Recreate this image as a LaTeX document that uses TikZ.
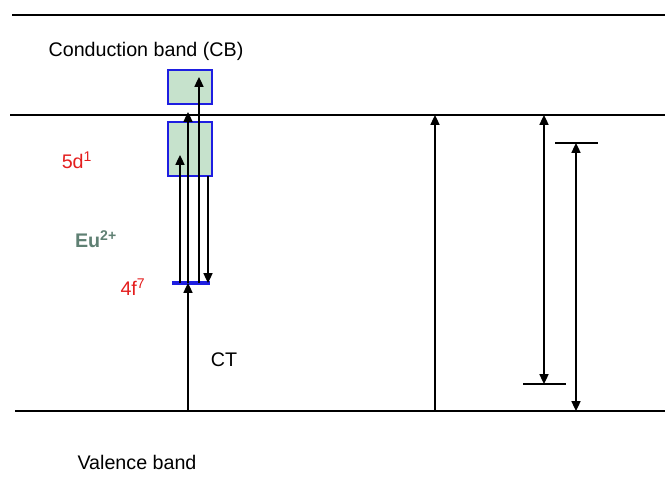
\documentclass[tikz,border=0pt]{standalone}
\usepackage{fontspec}
\setmainfont{Liberation Sans}
\usepackage{tikz}
\usetikzlibrary{arrows.meta,positioning}
\definecolor{eured}{RGB}{228, 30, 30}
\definecolor{eugreen}{RGB}{95, 128, 115}
\definecolor{boxgreen}{RGB}{198, 226, 204}
\definecolor{boxblue}{RGB}{30, 30, 225}

\tikzset{
  band/.style={line width=2.1pt, black},
  level/.style={line width=2.1pt},
  arr/.style={-{Triangle[length=7pt,width=6.5pt]}, line width=0.9pt},
  darr/.style={{Triangle[length=7pt,width=6.5pt]}-{Triangle[length=7pt,width=6.5pt]}, line width=0.9pt},
  levelbox/.style={draw=boxblue, fill=boxgreen, line width=1.4pt, inner sep=0pt},
  lbl/.style={font=\fontsize{14}{16}\selectfont}
}
\newcommand{\supsm}[1]{\textsuperscript{\fontsize{10}{10}\selectfont #1}}

\begin{document}
\begin{tikzpicture}[x=0.025cm, y=-0.025cm]
\useasboundingbox (0,0) rectangle (665,486);
% Band edges
\draw[band] (12,15) -- (665,15);
\draw[band] (10,115) -- (665,115);
\draw[band] (15,411) -- (665,411);
% Eu2+ levels
\node[levelbox, minimum width=1.1cm, minimum height=0.83cm] (cb) at (190,87) {};
\node[levelbox, minimum width=1.1cm, minimum height=1.35cm] (fived) at (190,149) {};
\draw[level, boxblue, line width=2.6pt] (172,283) -- (210,283);
% Arrow end points
\coordinate (fA) at (180,283);
\coordinate (fB) at (188,283);
\coordinate (fC) at (199,283);
\coordinate (fD) at (208,283);
\coordinate (dA) at (180,155);
\coordinate (cbB) at (188,112);
\coordinate (cbC) at (199,77);
\coordinate (dD) at (208,176);
\coordinate (vCT) at (188,411);
% Transitions
\draw[arr] (fA) -- (dA);
\draw[arr] (fB) -- (cbB);
\draw[arr] (fC) -- (cbC);
\draw[arr] (dD) -- (fD);
\draw[arr] (vCT) -- (fB);
% Right side
\coordinate (gapV) at (435,411);
\coordinate (gapC) at (435,115);
\draw[arr] (gapV) -- (gapC);
\coordinate (lowL) at (523,384);
\coordinate (lowR) at (566,384);
\coordinate (highL) at (555,143);
\coordinate (highR) at (598,143);
\draw[level] (lowL) -- (lowR);
\draw[level] (highL) -- (highR);
\coordinate (eA) at (544,115);
\coordinate (eB) at (544,384);
\coordinate (tA) at (576,143);
\coordinate (tB) at (576,411);
\draw[darr] (eA) -- (eB);
\draw[darr] (tA) -- (tB);
% Labels
\node[lbl] (cblbl) at (146,51) {Conduction band (CB)};
\node[lbl, text=eured] (dlbl) at (77,160) {5d\supsm{1}};
\node[lbl, text=eugreen, font=\fontsize{14}{16}\selectfont\bfseries] (eulbl) at (96,239) {Eu\supsm{2+}};
\node[lbl, text=eured] (flbl) at (133,287) {4f\supsm{7}};
\node[lbl] (ctlbl) at (224,360) {CT};
\node[lbl] (vblbl) at (137,462) {Valence band};
\end{tikzpicture}
\end{document}
